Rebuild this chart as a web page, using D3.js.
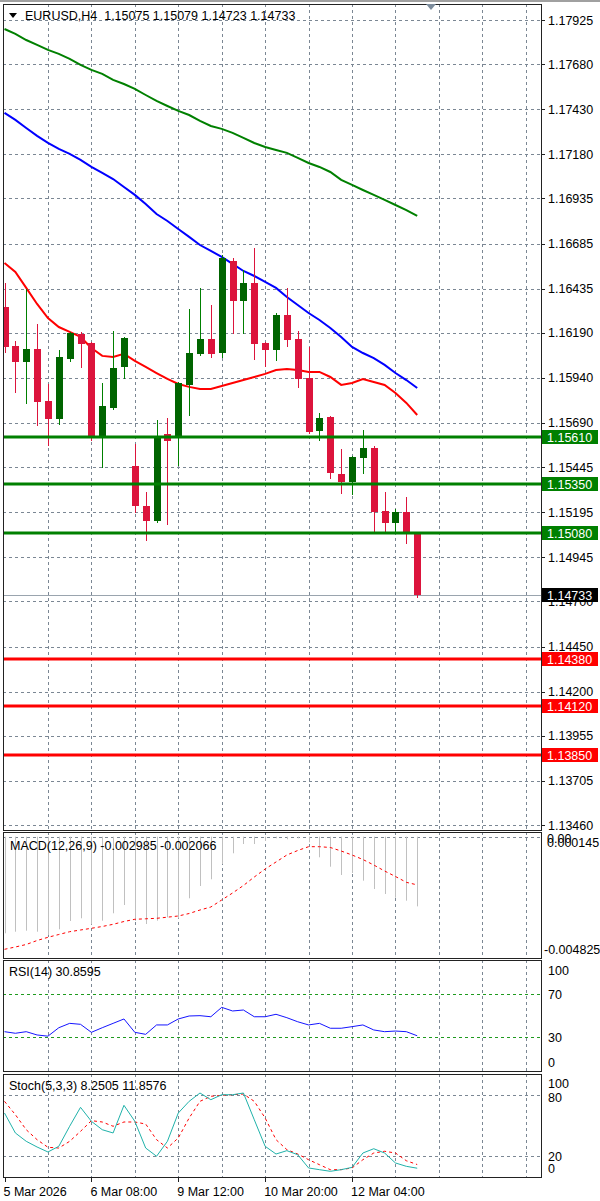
<!DOCTYPE html>
<html>
<head>
<meta charset="utf-8">
<script src="https://cdn.jsdelivr.net/npm/d3@7"></script>
<style>
    body { margin: 0; background: #fff; }
    svg text { font-family: "Liberation Sans", Arial, sans-serif; font-size: 12.5px; fill: #000; }
</style>
</head>
<body>
<script>
// EURUSD H4 candles, one entry per bar (bar 0 = 5 Mar 2026)
const opens  = [1.16333,1.16117,1.16028,1.16100,1.15812,1.15712,1.16045,1.16184,1.16134,1.15612,1.15773,1.16001,1.15451,1.15230,1.15146,1.15629,1.15607,1.15901,1.16073,1.16156,1.16078,1.16589,1.16367,1.16466,1.16134,1.16095,1.16289,1.16156,1.15940,1.15646,1.15723,1.15407,1.15363,1.15496,1.15551,1.15202,1.15135,1.15196,1.15075];
const highs  = [1.16466,1.16145,1.16433,1.16239,1.15906,1.16095,1.16195,1.16195,1.16137,1.15912,1.16200,1.16167,1.15573,1.15307,1.15707,1.15718,1.15915,1.16322,1.16439,1.16344,1.16622,1.16605,1.16539,1.16661,1.16137,1.16300,1.16439,1.16200,1.16112,1.15745,1.15729,1.15546,1.15504,1.15651,1.15562,1.15307,1.15213,1.15279,1.15079];
const lows   = [1.16084,1.15862,1.15801,1.15679,1.15568,1.15684,1.16034,1.16001,1.15596,1.15446,1.15770,1.15940,1.15196,1.15041,1.15141,1.15130,1.15457,1.15734,1.16067,1.16056,1.16056,1.16189,1.16189,1.16045,1.16006,1.16039,1.16117,1.15890,1.15634,1.15596,1.15385,1.15302,1.15296,1.15413,1.15085,1.15085,1.15085,1.15024,1.14723];
const closes = [1.16112,1.16028,1.16100,1.15806,1.15712,1.16056,1.16189,1.16128,1.15607,1.15784,1.15995,1.16161,1.15230,1.15146,1.15612,1.15590,1.15912,1.16078,1.16156,1.16073,1.16605,1.16367,1.16466,1.16128,1.16095,1.16289,1.16150,1.15934,1.15640,1.15718,1.15413,1.15363,1.15501,1.15551,1.15196,1.15135,1.15196,1.15075,1.14733];

// moving averages
const maGreen = [1.17875,1.17848,1.17814,1.17787,1.17759,1.17737,1.17709,1.17676,1.17648,1.17626,1.17593,1.17570,1.17543,1.17509,1.17476,1.17448,1.17421,1.17398,1.17365,1.17337,1.17321,1.17299,1.17271,1.17243,1.17221,1.17204,1.17188,1.17160,1.17132,1.17110,1.17082,1.17038,1.17010,1.16982,1.16955,1.16927,1.16899,1.16871,1.16838];
const maBlue  = [1.17410,1.17371,1.17326,1.17282,1.17243,1.17210,1.17182,1.17149,1.17110,1.17077,1.17043,1.16999,1.16955,1.16905,1.16849,1.16810,1.16766,1.16722,1.16677,1.16644,1.16611,1.16572,1.16533,1.16505,1.16472,1.16439,1.16389,1.16344,1.16300,1.16261,1.16217,1.16167,1.16112,1.16078,1.16050,1.16012,1.15967,1.15928,1.15884];
const maRed   = [1.16577,1.16528,1.16439,1.16350,1.16272,1.16222,1.16195,1.16167,1.16106,1.16062,1.16056,1.16073,1.16034,1.16001,1.15967,1.15934,1.15906,1.15890,1.15879,1.15879,1.15895,1.15912,1.15928,1.15945,1.15962,1.15984,1.15989,1.15984,1.15973,1.15973,1.15945,1.15901,1.15912,1.15934,1.15917,1.15901,1.15856,1.15801,1.15734];

// MACD(12,26,9)
const macdMain   = [-0.004139,-0.004071,-0.004028,-0.004071,-0.004212,-0.003968,-0.003612,-0.003497,-0.003754,-0.003599,-0.003282,-0.002927,-0.003612,-0.003741,-0.003599,-0.003454,-0.003497,-0.002640,-0.002113,-0.001825,-0.001170,-0.000711,-0.000313,-0.000313,-0.000184,-0.000069,-0.000111,-0.000069,-0.000240,-0.000883,-0.001286,-0.001641,-0.001555,-0.001885,-0.002241,-0.002455,-0.002614,-0.002742,-0.002985];
const macdSignal = [-0.004825,-0.004726,-0.004619,-0.004448,-0.004311,-0.004191,-0.004071,-0.003998,-0.003925,-0.003848,-0.003754,-0.003634,-0.003539,-0.003518,-0.003497,-0.003449,-0.003398,-0.003291,-0.003141,-0.003012,-0.002712,-0.002412,-0.002091,-0.001727,-0.001384,-0.001084,-0.000784,-0.000591,-0.000428,-0.000428,-0.000463,-0.000613,-0.000784,-0.000977,-0.001213,-0.001470,-0.001705,-0.001954,-0.002066];

// RSI(14)
const rsiValues = [34.7,33.2,34.7,31.6,30.5,38.4,42.5,41.6,34.1,38.4,42.5,46.6,34.1,32.2,41.0,41.0,46.6,49.4,49.7,48.7,57.5,54.1,55.0,48.7,48.7,51.0,47.8,44.0,41.0,42.5,37.9,37.9,39.4,41.0,36.3,34.7,35.3,34.7,30.86];

// Stoch(5,3,3)
const stochMain   = [62.5,42.9,34.7,29.1,24.2,29.8,49.5,68.1,54.4,46.1,42.9,70.1,54.4,28.1,20.0,34.7,62.5,74.0,82.2,75.6,80.5,80.5,82.2,55.9,29.8,22.2,25.5,21.5,8.5,6.8,5.2,6.8,9.1,23.2,27.4,23.2,13.4,10.1,8.25];
const stochSignal = [74.0,60.9,46.1,36.3,28.8,28.1,34.7,44.5,55.0,53.7,49.5,53.7,53.7,51.7,36.3,28.1,38.0,57.6,74.0,79.0,79.9,80.5,81.2,74.0,57.6,36.3,26.5,22.2,16.6,11.7,6.8,6.8,8.5,16.6,23.2,24.9,23.2,15.6,11.86];

// axis labels
const priceTicks = [1.17925,1.17680,1.17430,1.17180,1.16935,1.16685,1.16435,1.16190,1.15940,1.15690,1.15445,1.15195,1.14945,1.14700,1.14450,1.14200,1.13955,1.13705,1.13460];
const supportLevels    = [1.15610, 1.15350, 1.15080];
const resistanceLevels = [1.14380, 1.14120, 1.13850];
const lastPrice = 1.14733;
const timeLabels = ["5 Mar 2026", "6 Mar 08:00", "9 Mar 12:00", "10 Mar 20:00", "12 Mar 04:00"];
const timeLabelBars = [0, 8, 16, 24, 32];
const rsiTicks = [100, 70, 30, 0];
const stochTicks = [100, 80, 20, 0];

window.onload = function () {
    const width = 600, height = 1201;
    const frameLeft = 3, frameRight = 541;

    const svg = d3.select("body").append("svg")
        .attr("width", width)
        .attr("height", height);

    const panels = {
        main:  {top: 4,    bottom: 830},
        macd:  {top: 832,  bottom: 958},
        rsi:   {top: 960,  bottom: 1071},
        stoch: {top: 1074, bottom: 1177}
    };

    const x = d3.scaleLinear().domain([0, 38]).range([4.5, 417.2]);
    const yMain  = d3.scaleLinear().domain([1.13460, 1.17925]).range([825, 20]);
    const yMacd  = d3.scaleLinear().domain([-0.004825, 0]).range([949.3, 836.7]);
    const yRsi   = d3.scaleLinear().domain([0, 100]).range([1068.7, 962]);
    const yStoch = d3.scaleLinear().domain([0, 100]).range([1176.6, 1074.9]);

    const px = function (v) { return Math.round(v) + 0.5; };

    // clip paths so lines stay inside their window
    const defs = svg.append("defs");
    Object.keys(panels).forEach(function (k) {
        defs.append("clipPath").attr("id", "clip-" + k)
            .append("rect")
            .attr("x", frameLeft).attr("y", panels[k].top)
            .attr("width", frameRight - frameLeft).attr("height", panels[k].bottom - panels[k].top);
    });

    // window top border
    svg.append("rect").attr("x", 0).attr("y", 0).attr("width", width).attr("height", 2).attr("fill", "#a0a0a0");

    // vertical grid, every 4 bars, in every window
    const gridBars = d3.range(4, 49, 4);
    Object.keys(panels).forEach(function (k) {
        svg.append("g").selectAll("line")
            .data(gridBars)
            .enter()
            .append("line")
            .attr("x1", function (d) { return px(x(d)); })
            .attr("x2", function (d) { return px(x(d)); })
            .attr("y1", panels[k].top)
            .attr("y2", panels[k].bottom)
            .attr("stroke", "#7b8794")
            .attr("stroke-dasharray", "3,3");
    });

    // horizontal grid, main window
    svg.append("g").selectAll("line")
        .data(priceTicks)
        .enter()
        .append("line")
        .attr("x1", frameLeft).attr("x2", frameRight)
        .attr("y1", function (d) { return px(yMain(d)); })
        .attr("y2", function (d) { return px(yMain(d)); })
        .attr("stroke", "#7b8794")
        .attr("stroke-dasharray", "3,3");

    function hLine(y, color) {
        svg.append("line")
            .attr("x1", frameLeft).attr("x2", frameRight)
            .attr("y1", px(y)).attr("y2", px(y))
            .attr("stroke", color)
            .attr("stroke-dasharray", "3,3");
    }
    hLine(yMacd(0), "#7b8794");
    hLine(yRsi(70), "#1f9a1f");
    hLine(yRsi(30), "#1f9a1f");
    hLine(yStoch(80), "#7b8794");
    hLine(yStoch(20), "#7b8794");

    // moving averages
    const mainG = svg.append("g").attr("clip-path", "url(#clip-main)");
    const maLine = d3.line()
        .x(function (d, i) { return x(i); })
        .y(function (d) { return yMain(d); });

    [[maGreen, "#008000"], [maBlue, "#0000ff"], [maRed, "#ff0000"]].forEach(function (m) {
        mainG.append("path")
            .datum(m[0])
            .attr("d", maLine)
            .attr("fill", "none")
            .attr("stroke", m[1])
            .attr("stroke-width", 2);
    });

    // last price line
    mainG.append("line")
        .attr("x1", frameLeft).attr("x2", frameRight)
        .attr("y1", px(yMain(lastPrice))).attr("y2", px(yMain(lastPrice)))
        .attr("stroke", "#9aa4ae");

    // candles
    const candles = mainG.selectAll(".candle")
        .data(opens.map(function (o, i) {
            return {i: i, o: o, h: highs[i], l: lows[i], c: closes[i]};
        }))
        .enter()
        .append("g")
        .attr("class", "candle");

    candles.append("line")
        .attr("x1", function (d) { return px(x(d.i)); })
        .attr("x2", function (d) { return px(x(d.i)); })
        .attr("y1", function (d) { return Math.round(yMain(d.h)); })
        .attr("y2", function (d) { return Math.round(yMain(d.l)) + 1; })
        .attr("stroke", function (d) { return d.c >= d.o ? "#008000" : "#dc143c"; });

    candles.append("rect")
        .attr("x", function (d) { return Math.round(x(d.i)) - 3; })
        .attr("width", 7)
        .attr("y", function (d) { return Math.round(yMain(Math.max(d.o, d.c))); })
        .attr("height", function (d) {
            return Math.max(1, Math.round(yMain(Math.min(d.o, d.c))) - Math.round(yMain(Math.max(d.o, d.c))));
        })
        .attr("fill", function (d) { return d.c >= d.o ? "#006400" : "#dc143c"; });

    // support / resistance lines
    function levelLine(v, color) {
        mainG.append("line")
            .attr("x1", frameLeft).attr("x2", frameRight)
            .attr("y1", Math.round(yMain(v))).attr("y2", Math.round(yMain(v)))
            .attr("stroke", color)
            .attr("stroke-width", 3);
    }
    supportLevels.forEach(function (v) { levelLine(v, "#008000"); });
    resistanceLevels.forEach(function (v) { levelLine(v, "#ff0000"); });

    // MACD histogram and signal
    const macdG = svg.append("g").attr("clip-path", "url(#clip-macd)");
    macdG.selectAll(".hist")
        .data(macdMain)
        .enter()
        .append("line")
        .attr("class", "hist")
        .attr("x1", function (d, i) { return px(x(i)); })
        .attr("x2", function (d, i) { return px(x(i)); })
        .attr("y1", yMacd(0))
        .attr("y2", function (d) { return yMacd(d); })
        .attr("stroke", "#c0c0c0");

    macdG.append("path")
        .datum(macdSignal)
        .attr("d", d3.line().x(function (d, i) { return x(i); }).y(function (d) { return yMacd(d); }))
        .attr("fill", "none")
        .attr("stroke", "#ff0000")
        .attr("stroke-dasharray", "3,3");

    // RSI
    svg.append("g").attr("clip-path", "url(#clip-rsi)")
        .append("path")
        .datum(rsiValues)
        .attr("d", d3.line().x(function (d, i) { return x(i); }).y(function (d) { return yRsi(d); }))
        .attr("fill", "none")
        .attr("stroke", "#1414ff");

    // Stochastic
    const stochG = svg.append("g").attr("clip-path", "url(#clip-stoch)");
    const stochLine = d3.line().x(function (d, i) { return x(i); }).y(function (d) { return yStoch(d); });
    stochG.append("path")
        .datum(stochSignal)
        .attr("d", stochLine)
        .attr("fill", "none")
        .attr("stroke", "#ff0000")
        .attr("stroke-dasharray", "3,3");
    stochG.append("path")
        .datum(stochMain)
        .attr("d", stochLine)
        .attr("fill", "none")
        .attr("stroke", "#20b2aa");

    // window frames
    Object.keys(panels).forEach(function (k) {
        svg.append("rect")
            .attr("x", frameLeft + 0.5).attr("y", panels[k].top + 0.5)
            .attr("width", frameRight - frameLeft).attr("height", panels[k].bottom - panels[k].top)
            .attr("fill", "none")
            .attr("stroke", "#222");
    });

    // right axis labels
    function axisLabel(y, label) {
        svg.append("line")
            .attr("x1", frameRight).attr("x2", frameRight + 4)
            .attr("y1", px(y)).attr("y2", px(y))
            .attr("stroke", "#222");
        svg.append("text")
            .attr("x", 548).attr("y", y).attr("dy", "0.36em")
            .text(label);
    }
    priceTicks.forEach(function (v) { axisLabel(yMain(v), v.toFixed(5)); });

    // MT4 draws the max and zero labels of the MACD window on top of each other
    svg.append("text").attr("x", 547).attr("y", 838).attr("dy", "0.36em").text("0.00");
    svg.append("text").attr("x", 547).attr("y", 842).attr("dy", "0.36em").text("0.000145");
    svg.append("text").attr("x", 544).attr("y", 949).attr("dy", "0.36em").text("-0.004825");

    const rsiLabelY = {100: 970, 70: 994, 30: 1037, 0: 1062};
    rsiTicks.forEach(function (v) {
        svg.append("text").attr("x", 548).attr("y", rsiLabelY[v]).attr("dy", "0.36em").text(v);
    });
    const stochLabelY = {100: 1083, 80: 1097, 20: 1156, 0: 1168};
    stochTicks.forEach(function (v) {
        svg.append("text").attr("x", 548).attr("y", stochLabelY[v]).attr("dy", "0.36em").text(v);
    });

    // coloured price boxes
    function priceBox(v, color) {
        const y = Math.round(yMain(v));
        svg.append("rect")
            .attr("x", 542).attr("y", y - 7)
            .attr("width", 56).attr("height", 14)
            .attr("fill", color);
        svg.append("text")
            .attr("x", 547).attr("y", y).attr("dy", "0.36em")
            .style("fill", "#fff")
            .text(v.toFixed(5));
    }
    supportLevels.forEach(function (v) { priceBox(v, "#008000"); });
    resistanceLevels.forEach(function (v) { priceBox(v, "#ff0000"); });
    priceBox(lastPrice, "#000");

    // time axis
    timeLabelBars.forEach(function (b, i) {
        svg.append("line")
            .attr("x1", px(x(b))).attr("x2", px(x(b)))
            .attr("y1", panels.stoch.bottom).attr("y2", panels.stoch.bottom + 5)
            .attr("stroke", "#222");
        svg.append("text")
            .attr("x", x(b) - 1).attr("y", 1191).attr("dy", "0.36em")
            .text(timeLabels[i]);
    });

    // window titles
    svg.append("path").attr("d", "M9,13 L17,13 L13,18 Z").attr("fill", "#000");
    svg.append("text").attr("x", 25).attr("y", 15).attr("dy", "0.36em")
        .attr("xml:space", "preserve")
        .text("EURUSD,H4  1.15075 1.15079 1.14723 1.14733");
    svg.append("path").attr("d", "M426,4 L436,4 L431,10 Z").attr("fill", "#7c8c9c");

    svg.append("text").attr("x", 10).attr("y", 845).attr("dy", "0.36em").text("MACD(12,26,9) -0.002985 -0.002066");
    svg.append("text").attr("x", 9).attr("y", 971).attr("dy", "0.36em").text("RSI(14) 30.8595");
    svg.append("text").attr("x", 9).attr("y", 1085).attr("dy", "0.36em").text("Stoch(5,3,3) 8.2505 11.8576");
};
</script>
</body>
</html>
